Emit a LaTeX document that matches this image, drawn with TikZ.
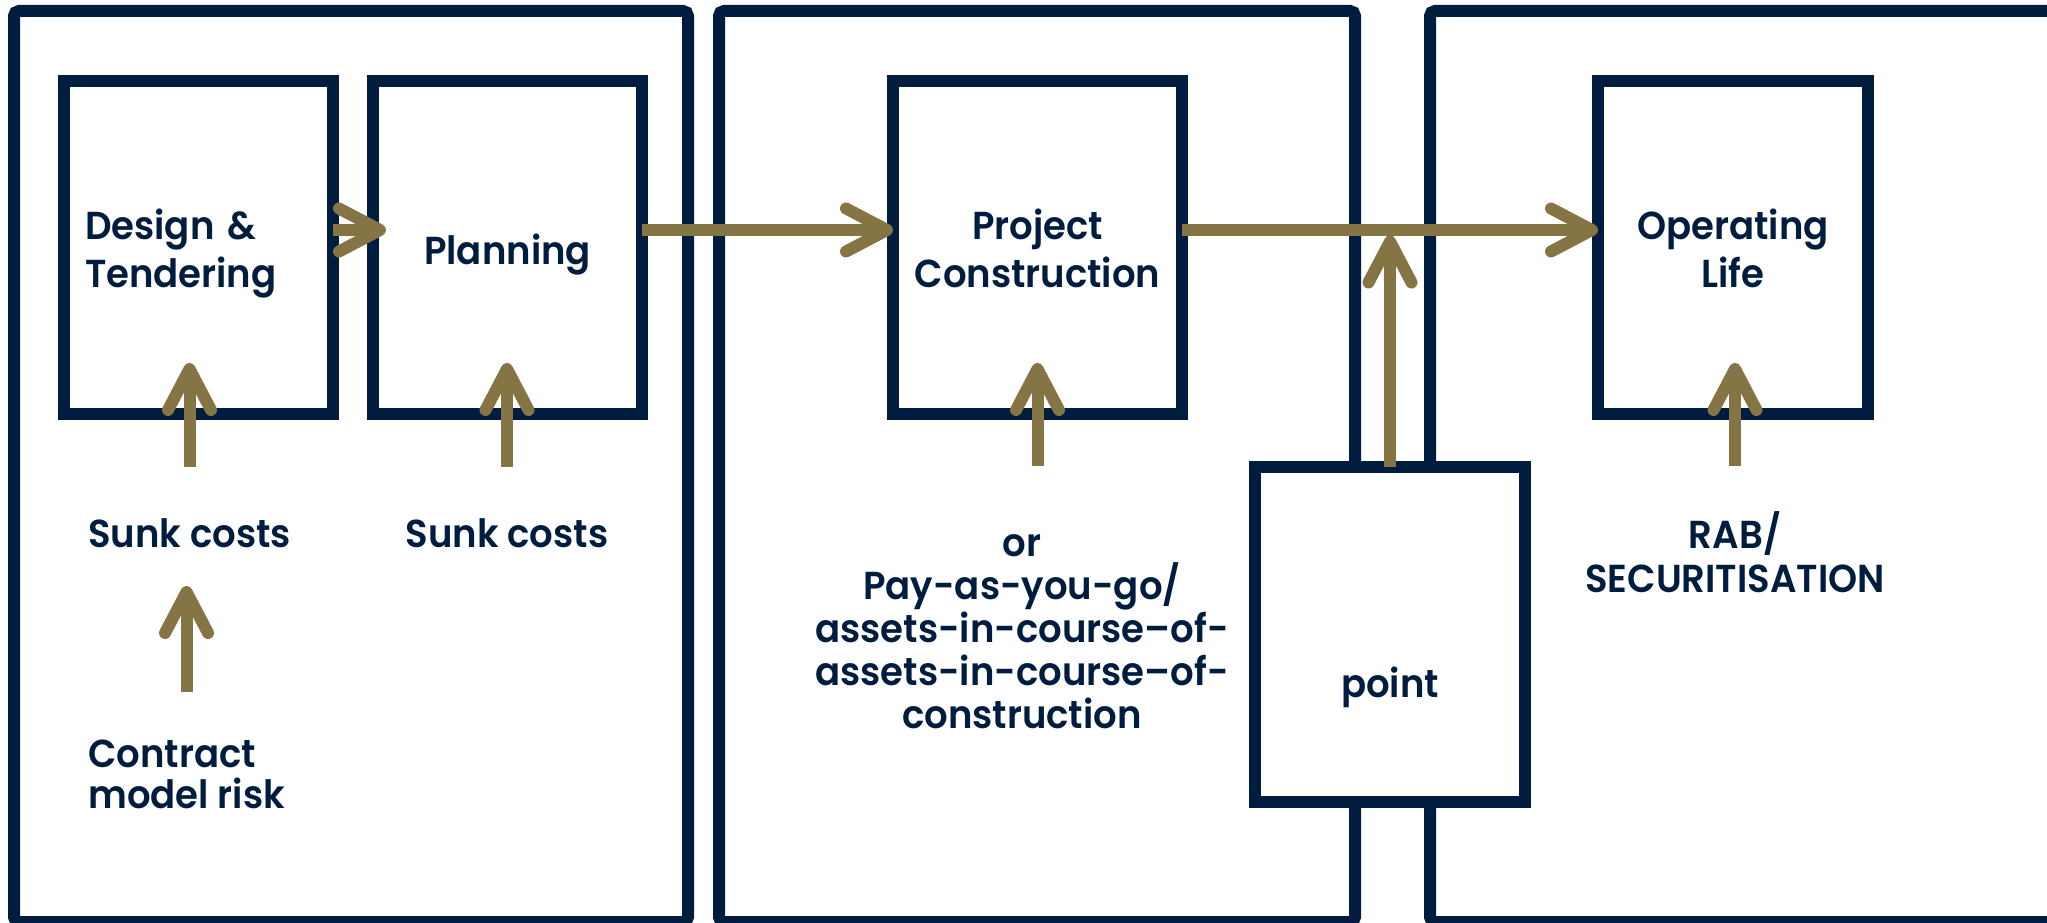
\documentclass[tikz,border=0pt]{standalone}
\usepackage{fontspec}
\setmainfont{Poppins}[BoldFont={Poppins SemiBold}, FakeStretch=0.95]
\usetikzlibrary{positioning,arrows.meta,calc}

\definecolor{navy}{RGB}{0,29,64}
\definecolor{gold}{RGB}{133,116,68}

\begin{document}
\begin{tikzpicture}[
    x=1pt, y=1pt,
    panel/.style={draw=navy, line width=12pt, rounded corners=5pt},
    stage/.style={draw=navy, fill=white, line width=12pt, outer sep=0pt, inner sep=0pt,
        minimum width=269pt, minimum height=333pt, align=center, text=navy,
        text height=81pt, text depth=0pt,
        font=\fontsize{39}{48}\selectfont\bfseries},
    note/.style={inner sep=0pt, align=center, text=navy,
        font=\fontsize{39}{44}\selectfont\bfseries},
    arrow/.style={draw=gold, line width=12pt, -{Straight Barb[length=41pt, width=43pt, round]}}
]
\useasboundingbox (0,0) rectangle (2047,922);
\clip (0,0) rectangle (2047,922);

% Three phase frames
\draw[panel] (14,0) rectangle (688,911);
\draw[panel] (719,0) rectangle (1355,911);
\draw[panel] (1430,0) rectangle (2075,911);

% Stages
\node[stage, text width=227pt, align=left, text height=0pt, text depth=15pt] (design) at (198.5,674.5) {Design \&\\Tendering};
\node[stage, text height=35pt, right=40pt of design] (planning) {Planning};
\node[stage, minimum width=289pt, right=251pt of planning] (construct) {Project\\Construction};
\node[stage, minimum width=270pt, right=416pt of construct] (operating) {Operating\\Life};

% Hand-over box sits across the frame borders
\node[stage, minimum width=270pt, minimum height=335pt] (handover) at (1390,287.5) {};
\node[note, anchor=base] (handtxt) at ($(handover.center)+(0,-62.5)$) {point};

% Labels under the stages (base = last line)
\node[note, anchor=base] (sunkA) at (189.5,374) {Sunk costs};
\node[note, anchor=base] (sunkB) at (507,374) {Sunk costs};
\node[note, anchor=base west, align=left, font=\fontsize{39}{41}\selectfont\bfseries] (contract) at (88,114) {Contract\\model risk};
\node[note, anchor=base, font=\fontsize{39}{43}\selectfont\bfseries] (funding) at (1022,194)
    {or\\Pay-as-you-go/\\assets-in-course--of-\\assets-in-course--of-\\construction};
\node[note, anchor=base] (rab) at (1735,330) {RAB/\\SECURITISATION};

% Main flow
\draw[arrow] ([yshift=17.5pt]design.east) -- ([xshift=13pt, yshift=17.5pt]planning.west);
\draw[arrow] ([yshift=17.5pt]planning.east) -- ([yshift=17.5pt]construct.west);
\draw[arrow] ([yshift=17.5pt]construct.east) -- ([yshift=17.5pt]operating.west);
\coordinate (tap) at ($(handover.north |- design.center)+(0,12)$);
\draw[arrow] (handover.north) -- (tap);

% Inputs from below
\draw[arrow] ($(sunkA.base)+(0,81)$) -- ($(sunkA.base |- design.south)+(0,51)$);
\draw[arrow] ($(sunkB.base)+(0,81)$) -- ($(sunkB.base |- planning.south)+(0,51)$);
\draw[arrow] ($(contract.north)+(0,47)$) -- ($(contract.north |- sunkA.base)+(0,-38)$);
\draw[arrow] ($(construct.south)+(0,-52)$) -- ($(construct.south)+(0,51)$);
\draw[arrow] ($(operating.south)+(2,-52)$) -- ($(operating.south)+(2,51)$);

\end{tikzpicture}
\end{document}
